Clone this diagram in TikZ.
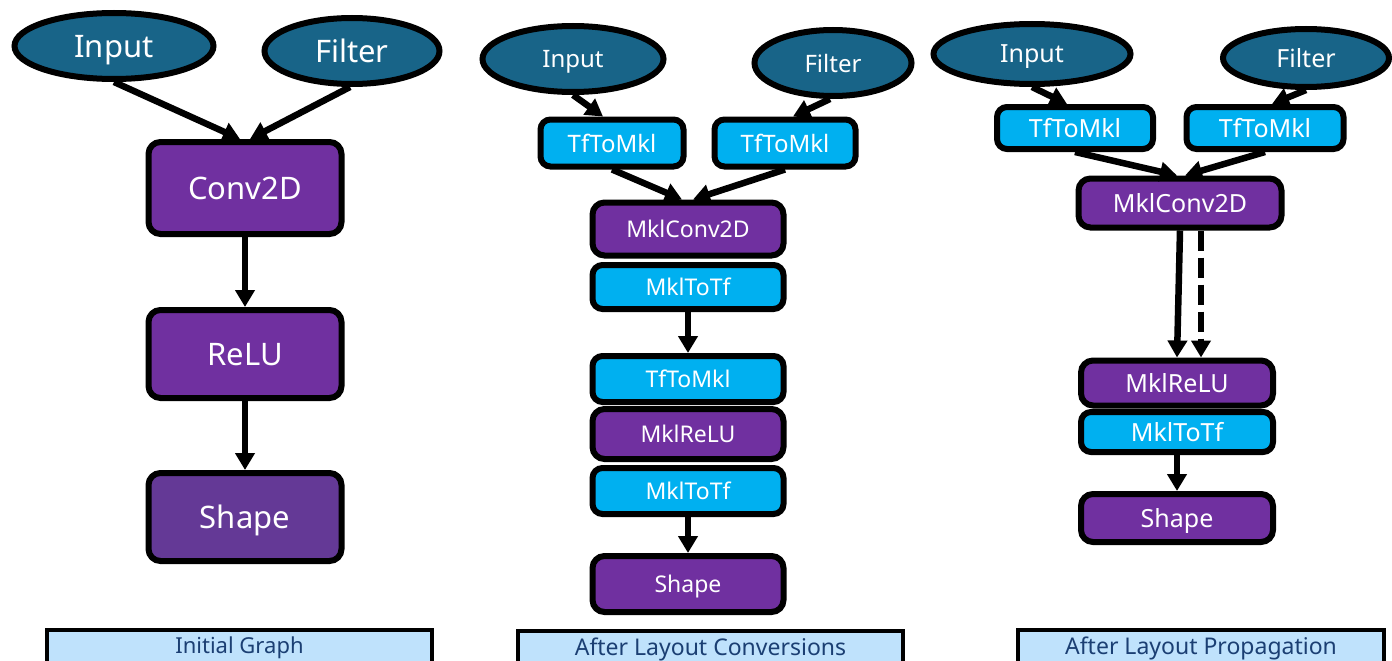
\documentclass[tikz,border=0pt]{standalone}
\usepackage{fontspec}
\setmainfont{Noto Sans}
\usetikzlibrary{arrows.meta,shapes.geometric,calc}
\definecolor{ovalblue}{HTML}{186488}
\definecolor{oppurple}{HTML}{7030A0}
\definecolor{shapepurple}{HTML}{643996}
\definecolor{convcyan}{HTML}{00B0F0}
\definecolor{tagfill}{HTML}{BFE2FC}
\definecolor{tagtext}{HTML}{1B3F73}
\newcommand\fsz[1]{\fontsize{#1}{#1}\selectfont}
\begin{document}
\begin{tikzpicture}[x=1pt,y=-1pt,
  base/.style={draw=black,line width=6pt,text=white,inner sep=0pt,text depth=0pt},
  oval/.style={base,ellipse,fill=ovalblue},
  opbox/.style={base,rectangle,rounded corners=12pt,fill=oppurple},
  cvbox/.style={base,rectangle,rounded corners=10pt,fill=convcyan},
  tag/.style={draw=black,line width=4.5pt,fill=tagfill,text=tagtext,inner sep=0pt,
    minimum height=36pt},
  arr/.style={line width=6.5pt,-{Triangle[width=19pt,length=17pt]}},
  dasharr/.style={arr,dash pattern=on 20pt off 7pt},
]
\useasboundingbox (0,0) rectangle (1392,661);
\fill[white] (0,0) rectangle (1392,661);
\clip (0,0) rectangle (1392,661);

% ---- initial graph
\node[oval,minimum width=199pt,minimum height=66pt,font=\fsz{31}] (in1) at (114,46) {Input};
\node[oval,minimum width=175pt,minimum height=66pt,font=\fsz{31}] (fi1) at (352,51) {Filter};
\node[opbox,minimum width=193pt,minimum height=92pt,font=\fsz{31}] (conv1) at (245,188) {Conv2D};
\node[opbox,minimum width=193pt,minimum height=88pt,font=\fsz{31}] (relu1) at (245,354) {ReLU};
\node[opbox,fill=shapepurple,minimum width=193pt,minimum height=88pt,font=\fsz{31}] (shape1) at (245,517) {Shape};
\node[tag,minimum width=385pt,font=\fsz{22}] (tag1) at (239.5,648) {Initial Graph};

\draw[arr] (in1.south) -- ([xshift=-5pt]conv1.north);
\draw[arr] ([xshift=-2pt]fi1.south) -- ([xshift=5pt]conv1.north);
\draw[arr] (conv1.south) -- (relu1.north);
\draw[arr] (relu1.south) -- (shape1.north);

% ---- after layout conversions
\node[oval,minimum width=181pt,minimum height=66pt,font=\fsz{24}] (in2) at (573,59) {Input};
\node[oval,minimum width=157pt,minimum height=66pt,font=\fsz{24}] (fi2) at (833,63) {Filter};
\node[cvbox,minimum width=143pt,minimum height=47pt,font=\fsz{24}] (tm2a) at (612,143) {TfToMkl};
\node[cvbox,minimum width=141pt,minimum height=47pt,font=\fsz{24}] (tm2b) at (785,143) {TfToMkl};
\node[opbox,minimum width=191pt,minimum height=53pt,font=\fsz{23}] (mc2) at (688,229) {MklConv2D};
\node[cvbox,minimum width=191pt,minimum height=44pt,font=\fsz{23}] (mt2) at (688,287) {MklToTf};
\node[cvbox,minimum width=191pt,minimum height=46pt,font=\fsz{23}] (tm2c) at (688,379) {TfToMkl};
\node[opbox,minimum width=191pt,minimum height=50pt,font=\fsz{23}] (mr2) at (688,434) {MklReLU};
\node[cvbox,minimum width=191pt,minimum height=46pt,font=\fsz{23}] (mt2b) at (688,491) {MklToTf};
\node[opbox,minimum width=191pt,minimum height=56pt,font=\fsz{23}] (sh2) at (688,584) {Shape};
\node[tag,minimum width=385pt,font=\fsz{23}] (tag2) at (710.5,649) {After Layout Conversions};

\draw[arr] (in2.south) -- ([xshift=-9pt]tm2a.north);
\draw[arr] ([xshift=-3pt]fi2.south) -- ([xshift=8pt]tm2b.north);
\draw[arr] (tm2a.south) -- ([xshift=-6pt]mc2.north);
\draw[arr] (tm2b.south) -- ([xshift=5pt]mc2.north);
\draw[arr] (mt2.south) -- (tm2c.north);
\draw[arr] (mt2b.south) -- (sh2.north);

% ---- after layout propagation
\node[oval,minimum width=197pt,minimum height=60pt,font=\fsz{25}] (in3) at (1032,54) {Input};
\node[oval,minimum width=166pt,minimum height=58pt,font=\fsz{25}] (fi3) at (1306,58) {Filter};
\node[cvbox,minimum width=156pt,minimum height=42pt,font=\fsz{25}] (tm3a) at (1075,128) {TfToMkl};
\node[cvbox,minimum width=157pt,minimum height=42pt,font=\fsz{25}] (tm3b) at (1265,128) {TfToMkl};
\node[opbox,minimum width=203pt,minimum height=49pt,font=\fsz{25}] (mc3) at (1180,203) {MklConv2D};
\node[opbox,minimum width=192pt,minimum height=45pt,font=\fsz{25}] (mr3) at (1177,383) {MklReLU};
\node[cvbox,minimum width=192pt,minimum height=40pt,font=\fsz{25}] (mt3) at (1177,432) {MklToTf};
\node[opbox,minimum width=192pt,minimum height=48pt,font=\fsz{25}] (sh3) at (1177,518) {Shape};
\node[tag,minimum width=366pt,font=\fsz{23}] (tag3) at (1201,648) {After Layout Propagation};

\draw[arr] (in3.south) -- ([xshift=-8pt]tm3a.north);
\draw[arr] (fi3.south) -- ([xshift=7pt]tm3b.north);
\draw[arr] (tm3a.south) -- ([xshift=-3pt]mc3.north);
\draw[arr] (tm3b.south) -- ([xshift=5pt]mc3.north);
\draw[arr] (mc3.south) -- (mr3.north);
\draw[dasharr] ([xshift=21pt]mc3.south) -- ([xshift=24pt]mr3.north);
\draw[arr] (mt3.south) -- (sh3.north);
\end{tikzpicture}
\end{document}
